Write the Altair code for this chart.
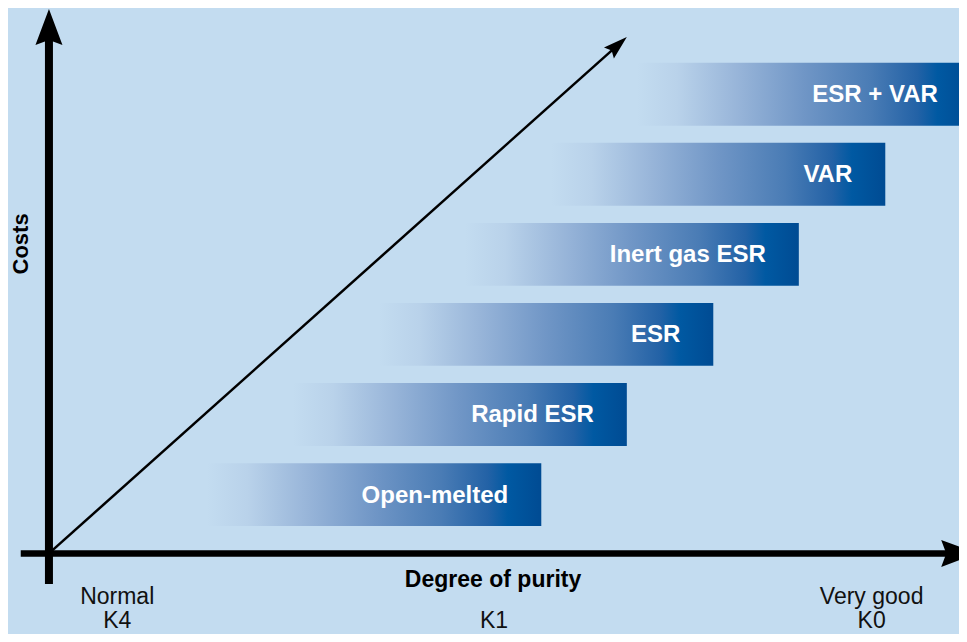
import altair as alt
import pandas as pd

# ---- data (abstract units: purity on x, cost on y) ----
processes = ["Open-melted", "Rapid ESR", "ESR", "Inert gas ESR", "VAR", "ESR + VAR"]
purity_start = [17.4, 26.8, 36.3, 45.7, 55.2, 64.6]
purity_end = [54.1, 63.5, 73.0, 82.4, 91.9, 101.3]
cost_low = [5.1, 20.0, 34.9, 49.8, 64.7, 79.6]
cost_high = [16.8, 31.7, 46.6, 61.5, 76.4, 91.3]

tick_names = ["Normal", "", "Very good"]
tick_grades = ["K4", "K1", "K0"]
tick_pos = [7.5, 48.9, 90.4]

# axis / trend segments
seg_x = [0, -3.1, 0]
seg_x2 = [0, 100, 62.5]
seg_y = [-5.7, 0, 0]
seg_y2 = [97, 0, 94.6]
seg_w = [8, 6.5, 2.5]

# arrow heads (tip positions)
head_x = [0, 102]
head_y = [101.3, 0]
head_angle = [0, 90]
trend_tip_x = [63.5]
trend_tip_y = [96.1]
trend_angle = [48.2]

title_text = ["Costs", "Degree of purity"]
title_x = [-3.05, 48.8]
title_y = [57.6, -6.3]

BG = "#c3dcf0"
FONT = "Liberation Sans"

xs = alt.Scale(domain=[-4.5, 100], nice=False, zero=False)
ys = alt.Scale(domain=[-15, 101.5], nice=False, zero=False)

bars_df = pd.DataFrame({"process": processes, "x0": purity_start, "x1": purity_end,
                        "y0": cost_low, "y1": cost_high})
seg_df = pd.DataFrame({"x": seg_x, "x2": seg_x2, "y": seg_y, "y2": seg_y2, "w": seg_w})
head_df = pd.DataFrame({"x": head_x, "y": head_y, "a": head_angle})
tip_df = pd.DataFrame({"x": trend_tip_x, "y": trend_tip_y, "a": trend_angle})
ticks_df = pd.DataFrame({"x": tick_pos, "name": tick_names, "grade": tick_grades,
                         "yn": [-9.4] * 3, "yg": [-14.8] * 3})
costs_df = pd.DataFrame({"t": [title_text[0]], "x": [title_x[0]], "y": [title_y[0]]})
purity_df = pd.DataFrame({"t": [title_text[1]], "x": [title_x[1]], "y": [title_y[1]]})

grad = {
    "gradient": "linear",
    "x1": 0, "x2": 1, "y1": 0, "y2": 0,
    "stops": [
        {"offset": 0, "color": BG},
        {"offset": 0.12, "color": "#b9d2ea"},
        {"offset": 0.3, "color": "#98b5d9"},
        {"offset": 0.5, "color": "#7096c6"},
        {"offset": 0.7, "color": "#4a7cb5"},
        {"offset": 0.84, "color": "#2362a6"},
        {"offset": 0.9, "color": "#0059a2"},
        {"offset": 1, "color": "#004b93"},
    ],
}

X = lambda f: alt.X(f, scale=xs, axis=None)
Y = lambda f: alt.Y(f, scale=ys, axis=None)

bars = alt.Chart(bars_df).mark_rect(color=grad, strokeWidth=0).encode(
    x=X("x0:Q"), x2="x1:Q", y=Y("y0:Q"), y2="y1:Q",
)

labels = alt.Chart(bars_df).transform_calculate(ym="(datum.y0 + datum.y1) / 2").mark_text(
    align="right", baseline="middle", dx=-33, dy=1, font=FONT, fontSize=24,
    fontWeight="bold", color="white",
).encode(x=X("x1:Q"), y=Y("ym:Q"), text="process:N")

segs = alt.Chart(seg_df).mark_rule(color="black", strokeCap="butt").encode(
    x=X("x:Q"), x2="x2:Q", y=Y("y:Q"), y2="y2:Q",
    size=alt.Size("w:Q", scale=None, legend=None),
)

heads = alt.Chart(head_df).mark_point(
    shape="M0,0L0.75,2L0,1.72L-0.75,2Z", filled=True, color="black", opacity=1,
    size=1296, strokeWidth=0,
).encode(x=X("x:Q"), y=Y("y:Q"), angle=alt.Angle("a:Q", scale=None))

tip = alt.Chart(tip_df).mark_point(
    shape="M0,0L0.62,2L0,1.7L-0.62,2Z", filled=True, color="black", opacity=1,
    size=576, strokeWidth=0,
).encode(x=X("x:Q"), y=Y("y:Q"), angle=alt.Angle("a:Q", scale=None))

costs = alt.Chart(costs_df).mark_text(
    angle=270, align="center", baseline="middle", font=FONT, fontSize=22,
    fontWeight="bold", color="black",
).encode(x=X("x:Q"), y=Y("y:Q"), text="t:N")

purity = alt.Chart(purity_df).mark_text(
    align="center", baseline="alphabetic", font=FONT, fontSize=23,
    fontWeight="bold", color="black",
).encode(x=X("x:Q"), y=Y("y:Q"), text="t:N")

names = alt.Chart(ticks_df).mark_text(
    align="center", baseline="alphabetic", font=FONT, fontSize=23, color="#111111",
).encode(x=X("x:Q"), y=Y("yn:Q"), text="name:N")

grades = alt.Chart(ticks_df).mark_text(
    align="center", baseline="bottom", font=FONT, fontSize=23, color="#111111",
).encode(x=X("x:Q"), y=Y("yg:Q"), text="grade:N")

chart = alt.layer(bars, labels, segs, heads, tip, costs, purity, names, grades).properties(
    width=951, height=626, padding=0,
    autosize=alt.AutoSizeParams(type="none"),
    background=BG,
).configure_view(stroke=None)

chart.save("out.html", embed_options={"renderer": "svg", "actions": False})
